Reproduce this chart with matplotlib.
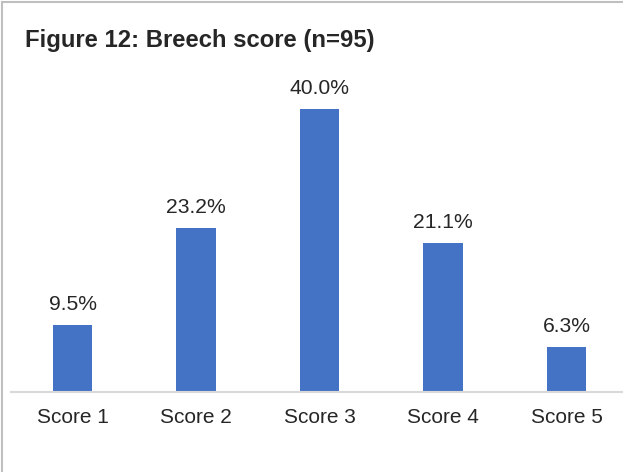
import matplotlib
matplotlib.use("Agg")
import matplotlib.pyplot as plt
from matplotlib.lines import Line2D

categories = ["Score 1", "Score 2", "Score 3", "Score 4", "Score 5"]
values = [9.5, 23.2, 40.0, 21.1, 6.3]
labels = ["9.5%", "23.2%", "40.0%", "21.1%", "6.3%"]
title = "Figure 12: Breech score (n=95)"

plt.rcParams['font.family'] = ['Liberation Sans', 'DejaVu Sans']

W, H = 623, 472
fig = plt.figure(figsize=(W / 100, H / 100), dpi=100)
fig.patch.set_facecolor("white")

ax_left = 10.75 / W
ax_width = 617.5 / W
ax_bottom = (H - 392) / H
ylim_top = 45.0
px_per_unit = 283 / 40.0
ax_height = (ylim_top * px_per_unit) / H
ax = fig.add_axes([ax_left, ax_bottom, ax_width, ax_height])

x = list(range(len(categories)))
ax.bar(x, values, width=0.316, color="#4472C4", zorder=2)
ax.set_xlim(-0.5, 4.5)
ax.set_ylim(0, ylim_top)

for xi, v, lab in zip(x, values, labels):
    ax.annotate(lab, (xi, v), xytext=(0, 8), textcoords="offset points",
                ha="center", va="bottom", fontsize=15.2, color="#262626")

for s in ["top", "right", "left"]:
    ax.spines[s].set_visible(False)
ax.spines["bottom"].set_color("#D9D9D9")
ax.spines["bottom"].set_linewidth(1.5)
ax.set_yticks([])
ax.set_xticks(x)
ax.set_xticklabels(categories, fontsize=15, color="#262626")
ax.tick_params(axis="x", length=0, pad=11.5)

fig.text(25 / W, 1 - 40 / H, title, fontsize=17.2, fontweight="bold",
         color="#262626", ha="left", va="center")

fig.add_artist(Line2D([2 / W, 2 / W], [0, 1 - 2 / H], transform=fig.transFigure,
                      color="#BFBFBF", linewidth=1.5))
fig.add_artist(Line2D([2 / W, 1], [1 - 2 / H, 1 - 2 / H], transform=fig.transFigure,
                      color="#BFBFBF", linewidth=1.5))

fig.savefig("out.png", dpi=100, facecolor="white")
